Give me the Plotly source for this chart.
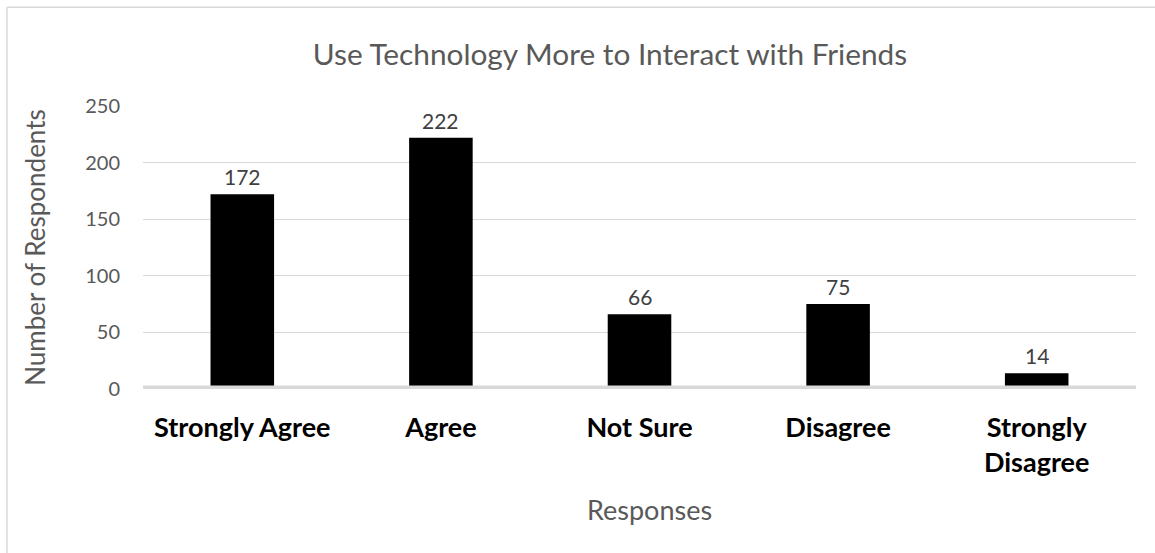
import plotly.graph_objects as go

categories = ["Strongly Agree", "Agree", "Not Sure", "Disagree", "Strongly<br>Disagree"]
values = [172, 222, 66, 75, 14]
y_ticks = [0, 50, 100, 150, 200, 250]

FONT = "Lato"
fig = go.Figure()
fig.add_trace(go.Bar(
    x=categories, y=values,
    marker=dict(color="#000000", line=dict(width=0)),
    width=0.32, hoverinfo="skip",
))

for c, v in zip(categories, values):
    fig.add_annotation(x=c, y=v, text=str(v), showarrow=False, yanchor="bottom",
                       yshift=3, font=dict(family=FONT, size=21, color="#404040"))

# x-axis title
fig.add_annotation(xref="paper", yref="paper", x=(649 - 143) / 993, y=(389.5 - 510) / 283.5,
                   text="Responses", showarrow=False, xanchor="center", yanchor="middle",
                   font=dict(family=FONT, size=27, color="#595959"))

# baseline at zero
fig.add_shape(type="line", xref="paper", yref="y", x0=0, x1=1, y0=0, y1=0,
              line=dict(color="#d9d9d9", width=7), layer="above")
# chart border (left and top edges visible)
fig.add_shape(type="line", xref="paper", yref="paper", x0=-0.137, x1=1.1, y0=1.349, y1=1.349,
              line=dict(color="#d9d9d9", width=1.5))
fig.add_shape(type="line", xref="paper", yref="paper", x0=-0.137, x1=-0.137, y0=1.349, y1=-0.7,
              line=dict(color="#d9d9d9", width=1.5))

fig.update_layout(
    width=1155, height=553,
    margin=dict(l=143, r=19, t=106, b=164, autoexpand=False),
    paper_bgcolor="white", plot_bgcolor="white",
    showlegend=False,
    title=dict(text="Use Technology More to Interact with Friends", x=610 / 1155, xanchor="center",
               y=1 - 55 / 553, yanchor="middle",
               font=dict(family=FONT, size=29.8, color="#595959")),
    xaxis=dict(showgrid=False, showline=False, zeroline=False, ticks="",
               tickfont=dict(family=FONT, size=27, color="#000000", weight="bold"),
               ticklabelstandoff=20,
               automargin=False, fixedrange=True),
    yaxis=dict(range=[0, 250], tickvals=y_ticks, showgrid=True, gridcolor="#d9d9d9", gridwidth=1,
               zeroline=False, showline=False, ticks="",
               tickfont=dict(family=FONT, size=20, color="#595959"),
               ticklabelstandoff=22,
               title=dict(text="Number of Respondents", standoff=32,
                          font=dict(family=FONT, size=26, color="#595959")),
               automargin=False, fixedrange=True),
)

fig.write_html("out.html", config={"displayModeBar": False},
               post_script="document.body.style.margin='0px';")
